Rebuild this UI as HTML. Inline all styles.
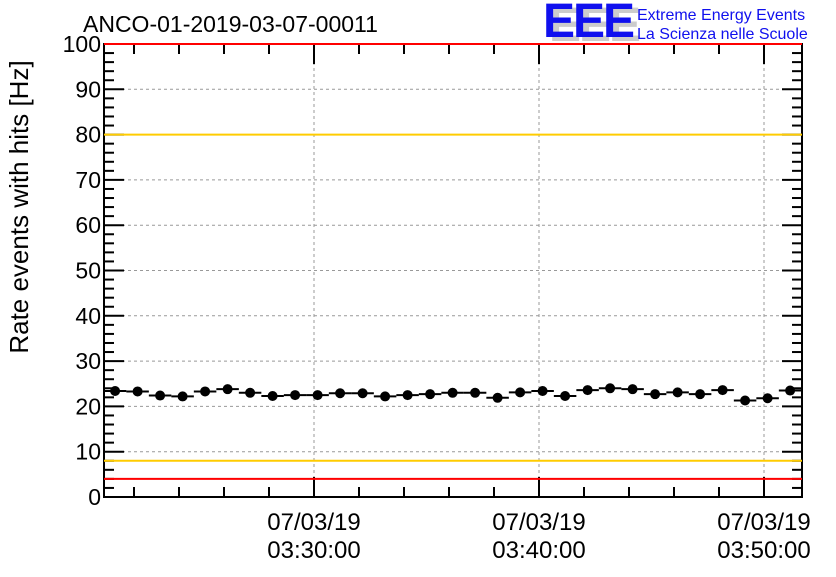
<!DOCTYPE html>
<html><head><meta charset="utf-8"><style>
body{margin:0;background:#fff}
svg text{font-family:"Liberation Sans",sans-serif}
</style></head><body>
<svg id="c" width="836" height="572" viewBox="0 0 836 572">
<rect width="836" height="572" fill="#fff"/>
<g id="grid"></g><g id="axes"></g><g id="marks"></g>
<text x="83" y="32" font-size="23" fill="#000">ANCO-01-2019-03-07-00011</text>
<g>
<text x="549" y="41" font-size="48" font-weight="bold" fill="#ccc" letter-spacing="-2">EEE</text>
<text x="543" y="37" font-size="48" font-weight="bold" fill="#1010ee" letter-spacing="-2">EEE</text>
<text x="637" y="20" font-size="16" fill="#1010ee">Extreme Energy Events</text>
<text x="637" y="39" font-size="16" fill="#1010ee">La Scienza nelle Scuole</text>
</g>
<text transform="translate(28,207) rotate(-90)" text-anchor="middle" font-size="26">Rate events with hits [Hz]</text>
</svg>
<script>
const values=[23.4,23.3,22.4,22.2,23.3,23.8,23.0,22.3,22.5,22.5,22.9,22.9,22.2,22.5,22.7,23.0,23.0,21.9,23.1,23.4,22.3,23.6,24.0,23.8,22.7,23.1,22.7,23.6,21.3,21.8,23.5];
const firstMinute=-8.84; // minutes relative to 03:30:00
const yTicks=[0,10,20,30,40,50,60,70,80,90,100];
const xTickMinutes=[0,10,20];
const xTickLabels=[["07/03/19","03:30:00"],["07/03/19","03:40:00"],["07/03/19","03:50:00"]];
const refLines=[{v:80,c:"#ffcc00",n:"upper-warning-line"},{v:8,c:"#ffcc00",n:"lower-warning-line"},{v:4,c:"#ff0000",n:"lower-alarm-line"},{v:100,c:"#ff0000",n:"upper-alarm-line"}];
const L=104,R=802,T=44,B=497;
const x=m=>314+m*22.5;
const y=v=>B-(B-T)*v/100;
const NS="http://www.w3.org/2000/svg";
function mk(p,t,a){const e=document.createElementNS(NS,t);for(const k in a)e.setAttribute(k,a[k]);p.appendChild(e);return e;}
const grid=document.getElementById('grid'),axes=document.getElementById('axes'),marks=document.getElementById('marks');
yTicks.forEach(v=>{if(v>0&&v<100){const g=mk(grid,'line',{x1:L,x2:R,y1:y(v),y2:y(v),stroke:'#999','stroke-dasharray':'3,3'});

}});
xTickMinutes.forEach(m=>{const g=mk(grid,'line',{x1:x(m),x2:x(m),y1:T,y2:B,stroke:'#999','stroke-dasharray':'3,3'});

});
const frame=mk(axes,'rect',{x:L,y:T,width:R-L,height:B-T,fill:'none',stroke:'#000','stroke-width':2});


for(let v=0;v<=100;v+=2){const len=v%10===0?20:10;
mk(axes,'line',{x1:L,x2:L+len,y1:y(v),y2:y(v),stroke:'#000','stroke-width':2});
mk(axes,'line',{x1:R-len,x2:R,y1:y(v),y2:y(v),stroke:'#000','stroke-width':2});}
yTicks.forEach(v=>{const t=mk(axes,'text',{x:L-3,y:y(v)+8,'text-anchor':'end','font-size':23});t.textContent=v;

});
for(let m=-8;m<=20;m+=2){const len=m%10===0?20:10;
mk(axes,'line',{x1:x(m),x2:x(m),y1:B,y2:B-len,stroke:'#000','stroke-width':2});
mk(axes,'line',{x1:x(m),x2:x(m),y1:T,y2:T+len,stroke:'#000','stroke-width':2});}
xTickMinutes.forEach((m,i)=>{xTickLabels[i].forEach((s,j)=>{const t=mk(axes,'text',{x:x(m),y:530+j*28,'text-anchor':'middle','font-size':24});t.textContent=s;

});});
refLines.forEach(r=>{const l=mk(marks,'line',{x1:L,x2:R,y1:y(r.v),y2:y(r.v),stroke:r.c,'stroke-width':2});

});
values.forEach((v,i)=>{const m=firstMinute+i;
const e=mk(marks,'line',{x1:x(m-0.5),x2:x(m+0.5),y1:y(v),y2:y(v),stroke:'#000','stroke-width':2});


const c=mk(marks,'circle',{cx:x(m),cy:y(v),r:5,fill:'#000'});

});
</script>
</body></html>
